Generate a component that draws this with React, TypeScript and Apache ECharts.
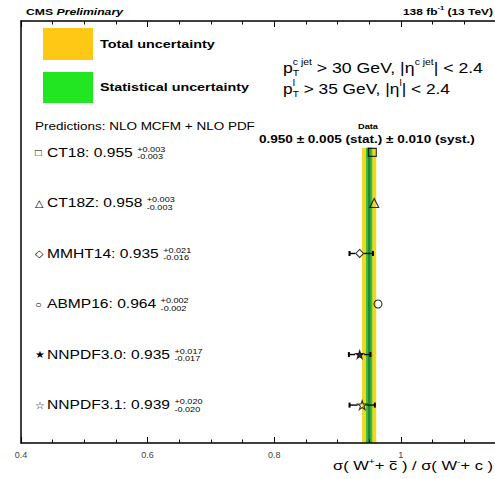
import React, { useEffect, useRef } from 'react';
import * as echarts from 'echarts';

// ---------------- data ----------------
const PDF_NAMES = ['CT18', 'CT18Z', 'MMHT14', 'ABMP16', 'NNPDF3.0', 'NNPDF3.1'];
const PDF_VALUES = [0.955, 0.958, 0.935, 0.964, 0.935, 0.939];
const PDF_ERR_UP = [0.003, 0.003, 0.021, 0.002, 0.017, 0.02];
const PDF_ERR_DOWN = [0.003, 0.003, 0.016, 0.002, 0.017, 0.02];
const PDF_ROWS = [6, 5, 4, 3, 2, 1];
const PDF_LABEL_GLYPHS = ['□', '△', '◇', '○', '★', '☆'];

const DATA_VALUE = 0.95;
const DATA_STAT = 0.005;
const DATA_SYST = 0.01;
const DATA_TOTAL = Math.sqrt(DATA_STAT * DATA_STAT + DATA_SYST * DATA_SYST);

const X_MIN = 0.4;
const X_MAX = 1.2;
const X_INTERVAL = 0.2;
const Y_MIN = 0.25;
const Y_MAX = 8.6;
const BAND_TOP = 6.09;

// ---------------- styling helpers ----------------
const FAM = '"Liberation Sans", Arial, Helvetica, "DejaVu Sans", sans-serif';
const STAR =
  'path://M10,0 L12.35,7.1 L19.8,7.1 L13.8,11.6 L16.1,18.8 L10,14.4 L3.9,18.8 L6.2,11.6 L0.2,7.1 L7.65,7.1 Z';
const SYMBOLS = ['rect', 'triangle', 'diamond', 'circle', STAR, STAR];
const SYMBOL_SIZES = [8, 9, 8, 8, 8, 9];
const FILLED = [false, false, false, false, true, false];

let measureCtx: any = null;
function measure(t: string, size: number, bold?: boolean, italic?: boolean) {
  if (!measureCtx) measureCtx = document.createElement('canvas').getContext('2d');
  measureCtx.font = `${italic ? 'italic ' : ''}${bold ? 'bold ' : ''}${size}px ${FAM}`;
  return measureCtx.measureText(t).width;
}

type Piece = {
  t?: string;
  s: number;
  b?: boolean;
  i?: boolean;
  dy?: number;
  bar?: boolean;
  sup?: string;
  sub?: string;
  up?: number;
  down?: number;
};

function layout(
  pieces: Piece[],
  x0: number,
  y: number,
  opts: { target?: number; sx?: number; align?: 'left' | 'center'; color?: string }
) {
  const color = opts.color || '#000';
  const widths = pieces.map((p) =>
    p.sup !== undefined
      ? Math.max(measure(p.sup, p.s, p.b), measure(p.sub || '', p.s, p.b))
      : measure(p.t || '', p.s, p.b, p.i)
  );
  const W = widths.reduce((a, b) => a + b, 0) || 1;
  const sx = opts.target ? opts.target / W : opts.sx ?? 1;
  let x = opts.align === 'center' ? x0 - (W * sx) / 2 : x0;
  const els: any[] = [];
  const mk = (t: string, s: number, b: boolean | undefined, it: boolean | undefined, yy: number, xx: number) => ({
    type: 'text',
    x: xx,
    y: yy,
    scaleX: sx,
    silent: true,
    style: {
      text: t,
      fontSize: s,
      fontWeight: b ? 'bold' : 'normal',
      fontStyle: it ? 'italic' : 'normal',
      fontFamily: FAM,
      fill: color,
      align: 'left',
      verticalAlign: 'middle',
    },
  });
  pieces.forEach((p, i) => {
    if (p.sup !== undefined) {
      els.push(mk(p.sup, p.s, p.b, false, y + (p.up ?? -4), x));
      if (p.sub) els.push(mk(p.sub, p.s, p.b, false, y + (p.down ?? 4), x));
    } else {
      els.push(mk(p.t || '', p.s, p.b, p.i, y + (p.dy ?? 0), x));
      if (p.bar) {
        const yy = y - p.s * 0.38;
        els.push({
          type: 'rect',
          silent: true,
          shape: { x: x + widths[i] * sx * 0.1, y: yy, width: widths[i] * sx * 0.8, height: 1 },
          style: { fill: color },
        });
      }
    }
    x += widths[i] * sx;
  });
  return els;
}

export default function App() {
  const ref = useRef<HTMLDivElement>(null);

  useEffect(() => {
    if (!ref.current) return;
    const chart = echarts.init(ref.current, null, { renderer: 'svg' });

    const bandData = [
      [DATA_VALUE - DATA_TOTAL, DATA_VALUE + DATA_TOTAL],
      [DATA_VALUE - DATA_STAT, DATA_VALUE + DATA_STAT],
    ];
    const bandColors = ['#F0D820', '#3DBE3D'];

    const errData = PDF_VALUES.map((v, i) => [v - PDF_ERR_DOWN[i], v, PDF_ROWS[i], v + PDF_ERR_UP[i]]);
    const scatterData = PDF_VALUES.map((v, i) => ({
      value: [v, PDF_ROWS[i]],
      symbol: SYMBOLS[i],
      symbolSize: SYMBOL_SIZES[i],
      itemStyle: {
        color: FILLED[i] ? '#000' : 'rgba(0,0,0,0)',
        borderColor: '#000',
        borderWidth: 1.1,
      },
    }));

    const axisCommon = {
      type: 'value',
      min: X_MIN,
      max: X_MAX,
      interval: X_INTERVAL,
      z: 10,
      splitLine: { show: false },
      axisLine: { show: true, onZero: false, lineStyle: { color: '#000', width: 1.5 } },
      axisTick: { show: true, inside: true, length: 6, lineStyle: { color: '#000', width: 1 } },
      minorTick: { show: true, splitNumber: 4, length: 3.5, lineStyle: { color: '#000', width: 1 } },
      minorSplitLine: { show: false },
    };

    chart.setOption({
      animation: false,
      backgroundColor: '#fff',
      grid: {
        left: 21,
        top: 21,
        right: 495 - 21 - (X_MAX - X_MIN) * 633,
        bottom: 36,
        containLabel: false,
        outerBoundsMode: 'none',
      },
      xAxis: [
        {
          ...axisCommon,
          position: 'bottom',
          axisLabel: {
            show: true,
            margin: 7,
            color: '#444',
            fontSize: 9,
            fontFamily: FAM,
            showMaxLabel: false,
          },
        },
        {
          ...axisCommon,
          position: 'top',
          axisLabel: { show: false },
        },
      ],
      yAxis: {
        type: 'value',
        min: Y_MIN,
        max: Y_MAX,
        z: 10,
        axisLine: { show: true, onZero: false, lineStyle: { color: '#000', width: 1.5 } },
        axisTick: { show: false },
        axisLabel: { show: false },
        splitLine: { show: false },
      },
      series: [
        {
          type: 'custom',
          name: 'band',
          z: 1,
          silent: true,
          data: bandData,
          encode: { x: [0, 1] },
          renderItem: (params: any, api: any) => {
            const p0 = api.coord([api.value(0), BAND_TOP]);
            const p1 = api.coord([api.value(1), Y_MIN]);
            return {
              type: 'rect',
              shape: { x: p0[0], y: p0[1], width: p1[0] - p0[0], height: p1[1] - p0[1] },
              style: { fill: bandColors[params.dataIndex] },
            };
          },
        },
        {
          type: 'custom',
          name: 'central',
          z: 2,
          silent: true,
          data: [[DATA_VALUE]],
          encode: { x: 0 },
          renderItem: (params: any, api: any) => {
            const p0 = api.coord([api.value(0), BAND_TOP]);
            const p1 = api.coord([api.value(0), Y_MIN]);
            return {
              type: 'line',
              shape: { x1: p0[0], y1: p0[1], x2: p1[0], y2: p1[1] },
              style: { stroke: '#1E8A3C', lineWidth: 2.5 },
            };
          },
        },
        {
          type: 'custom',
          name: 'errors',
          z: 3,
          silent: true,
          data: errData,
          encode: { x: [0, 1, 3], y: 2 },
          renderItem: (params: any, api: any) => {
            const row = api.value(2);
            const c = api.coord([api.value(1), row]);
            const lo = api.coord([api.value(0), row]);
            const hi = api.coord([api.value(3), row]);
            const r = 4.5;
            const st = { stroke: '#000', lineWidth: 1.4 };
            const children: any[] = [];
            if (c[0] - lo[0] > r) {
              children.push({ type: 'line', shape: { x1: lo[0], y1: c[1], x2: c[0] - r, y2: c[1] }, style: st });
              children.push({ type: 'line', shape: { x1: lo[0], y1: c[1] - 2.5, x2: lo[0], y2: c[1] + 2.5 }, style: { ...st, lineWidth: 2 } });
            }
            if (hi[0] - c[0] > r) {
              children.push({ type: 'line', shape: { x1: c[0] + r, y1: c[1], x2: hi[0], y2: c[1] }, style: st });
              children.push({ type: 'line', shape: { x1: hi[0], y1: c[1] - 2.5, x2: hi[0], y2: c[1] + 2.5 }, style: { ...st, lineWidth: 2 } });
            }
            if (!children.length) return null;
            return { type: 'group', children };
          },
        },
        {
          type: 'scatter',
          name: 'predictions',
          z: 4,
          silent: true,
          data: scatterData,
        },
      ],
    });

    // --------- texts ---------
    const g: any[] = [];
    g.push(
      ...layout(
        [
          { t: 'CMS', s: 9.5, b: true },
          { t: ' Preliminary', s: 9.5, b: true, i: true },
        ],
        26,
        11.5,
        { target: 97 }
      )
    );
    g.push(
      ...layout(
        [
          { t: '138 fb', s: 9.5, b: true },
          { t: '-1', s: 6, b: true, dy: -3.5 },
          { t: ' (13 TeV)', s: 9.5, b: true },
        ],
        403,
        11.5,
        { target: 90 }
      )
    );
    g.push({ type: 'rect', silent: true, shape: { x: 43, y: 28, width: 50, height: 32 }, style: { fill: '#FFC814' } });
    g.push({ type: 'rect', silent: true, shape: { x: 43, y: 72, width: 50, height: 31 }, style: { fill: '#22E622' } });
    g.push(...layout([{ t: 'Total uncertainty', s: 11.5, b: true }], 100, 44, { target: 115 }));
    g.push(...layout([{ t: 'Statistical uncertainty', s: 11.5, b: true }], 100, 87, { target: 149 }));
    g.push(
      ...layout(
        [
          { t: 'p', s: 14.5 },
          { sup: 'c jet', sub: 'T', s: 8.5, up: -6, down: 5 },
          { t: ' > 30 GeV, |η', s: 14.5 },
          { t: 'c jet', s: 8.5, dy: -6 },
          { t: '| < 2.4', s: 14.5 },
        ],
        283,
        67.5,
        { target: 200 }
      )
    );
    g.push(
      ...layout(
        [
          { t: 'p', s: 14.5 },
          { sup: 'l', sub: 'T', s: 8.5, up: -5.5, down: 5 },
          { t: ' > 35 GeV, |η', s: 14.5 },
          { t: 'l', s: 8.5, dy: -5.5 },
          { t: '| < 2.4', s: 14.5 },
        ],
        283,
        89,
        { target: 167 }
      )
    );
    g.push(...layout([{ t: 'Predictions: NLO MCFM + NLO PDF', s: 10.5 }], 35, 127, { target: 220 }));
    g.push(...layout([{ t: 'Data', s: 8, b: true }], 368, 126, { target: 20, align: 'center' }));
    g.push(
      ...layout(
        [
          {
            t: `${DATA_VALUE.toFixed(3)} ± ${DATA_STAT.toFixed(3)} (stat.) ± ${DATA_SYST.toFixed(3)} (syst.)`,
            s: 10.5,
            b: true,
          },
        ],
        259,
        140,
        { target: 216 }
      )
    );
    PDF_NAMES.forEach((name, i) => {
      const py = chart.convertToPixel({ yAxisIndex: 0 }, PDF_ROWS[i]) as number;
      g.push(...layout([{ t: PDF_LABEL_GLYPHS[i], s: 10 }], 35, py, { sx: 1.1 }));
      g.push(
        ...layout(
          [
            { t: `${name}: ${PDF_VALUES[i].toFixed(3)} `, s: 12 },
            {
              sup: `+${PDF_ERR_UP[i].toFixed(3)}`,
              sub: `-${PDF_ERR_DOWN[i].toFixed(3)}`,
              s: 7,
              up: -3,
              down: 4.5,
            },
          ],
          47,
          py,
          { sx: 1.3 }
        )
      );
    });
    g.push(
      ...layout(
        [
          { t: 'σ( W', s: 13 },
          { t: '+', s: 8, dy: -5 },
          { t: '+ ', s: 13 },
          { t: 'c', s: 13, bar: true },
          { t: ' ) / σ( W', s: 13 },
          { t: '-', s: 8, dy: -5 },
          { t: '+ c )', s: 13 },
        ],
        333,
        466,
        { target: 160 }
      )
    );

    chart.setOption({ graphic: { elements: g } });

    return () => chart.dispose();
  }, []);

  return (
    <div
      ref={ref}
      style={{ position: 'fixed', left: 0, top: 0, width: 495, height: 479, background: '#fff' }}
    />
  );
}
